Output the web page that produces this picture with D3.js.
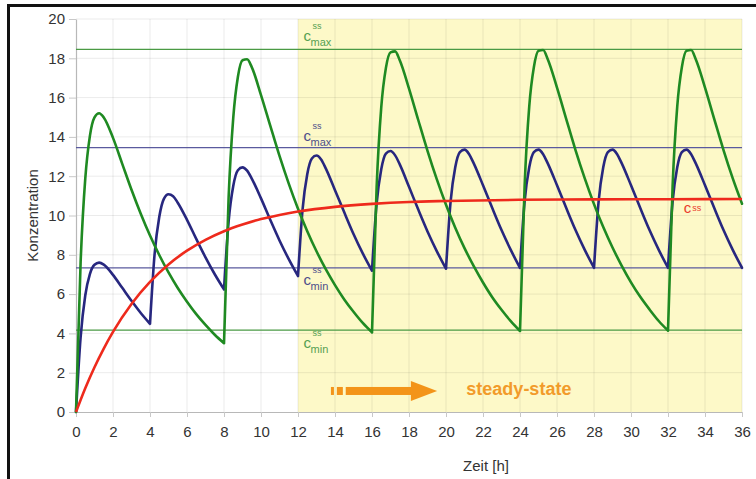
<!DOCTYPE html>
<html>
<head>
<meta charset="utf-8">
<script src="https://cdn.jsdelivr.net/npm/d3@7"></script>
<style>
  html, body { margin: 0; padding: 0; background: #fff; }
  svg { display: block; font-family: "Liberation Sans", Arial, sans-serif; }
</style>
</head>
<body>
<svg id="chart" width="756" height="479"></svg>
<script>
// ---------- DATA ----------
const xTicks = [0,2,4,6,8,10,12,14,16,18,20,22,24,26,28,30,32,34,36];
const yTicks = [0,2,4,6,8,10,12,14,16,18,20];
const xLabel = "Zeit [h]";
const yLabel = "Konzentration";
const steadyStart = 12;

// dosing every 8 h (green) : [time h, concentration]
const greenSeries = [
  [0,0],[0.25,7.63],[0.5,11.86],[0.75,14.04],[1,14.99],[1.25,15.2],[1.5,14.99],[2,13.95],[2.5,12.63],[3,11.31],[3.5,10.09],[4,8.98],[4.5,7.99],[5,7.1],[5.5,6.31],[6,5.61],[6.5,4.98],[7,4.43],[7.5,3.93],
  [8,3.5],[8.25,10.93],[8.5,14.97],[8.75,17.05],[9,17.9],[9.25,17.95],[9.5,17.55],[10,16.13],[10.5,14.57],[11,13.03],[11.5,11.62],[12,10.34],[12.5,9.2],[13,8.18],[13.5,7.27],[14,6.46],[14.5,5.73],[15,5.1],[15.5,4.53],
  [16,4.05],[16.25,11.43],[16.5,15.5],[16.75,17.5],[17,18.3],[17.25,18.35],[17.5,17.9],[18,16.46],[18.5,14.86],[19,13.29],[19.5,11.85],[20,10.55],[20.5,9.38],[21,8.34],[21.5,7.42],[22,6.59],[22.5,5.84],[23,5.2],[23.5,4.62],
  [24,4.12],[24.25,11.51],[24.5,15.55],[24.75,17.55],[25,18.38],[25.25,18.42],[25.5,17.95],[26,16.51],[26.5,14.91],[27,13.33],[27.5,11.89],[28,10.58],[28.5,9.41],[29,8.37],[29.5,7.44],[30,6.6],[30.5,5.86],[31,5.22],[31.5,4.63],
  [32,4.14],[32.25,11.51],[32.5,15.55],[32.75,17.55],[33,18.38],[33.25,18.42],[33.5,17.95],[34,16.51],[34.5,14.91],[35,13.33],[35.5,11.89],[36,10.6]
];

// dosing every 4 h (blue)
const blueSeries = [
  [0,0],[0.25,3.81],[0.5,5.93],[0.75,7.02],[1,7.49],[1.25,7.6],[1.5,7.5],[2,6.98],[2.5,6.32],[3,5.66],[3.5,5.04],
  [4,4.49],[4.25,8.05],[4.5,9.92],[4.75,10.85],[5,11.08],[5.25,10.98],[5.5,10.65],[6,9.78],[6.5,8.81],[7,7.87],[7.5,7.01],
  [8,6.24],[8.25,9.7],[8.5,11.5],[8.75,12.3],[9,12.45],[9.25,12.28],[9.5,11.88],[10,10.87],[10.5,9.78],[11,8.73],[11.5,7.78],
  [12,6.92],[12.25,10.34],[12.5,12.1],[12.75,12.9],[13,13.05],[13.25,12.85],[13.5,12.4],[14,11.29],[14.5,10.16],[15,9.06],[15.5,8.07],
  [16,7.19],[16.25,10.6],[16.5,12.35],[16.75,13.15],[17,13.28],[17.25,13.06],[17.5,12.6],[18,11.46],[18.5,10.3],[19,9.19],[19.5,8.19],
  [20,7.29],[20.25,10.72],[20.5,12.45],[20.75,13.22],[21,13.35],[21.25,13.12],[21.5,12.65],[22,11.54],[22.5,10.38],[23,9.26],[23.5,8.25],
  [24,7.33],[24.25,10.72],[24.5,12.45],[24.75,13.22],[25,13.35],[25.25,13.12],[25.5,12.65],[26,11.54],[26.5,10.38],[27,9.26],[27.5,8.25],
  [28,7.34],[28.25,10.72],[28.5,12.45],[28.75,13.22],[29,13.35],[29.25,13.12],[29.5,12.65],[30,11.54],[30.5,10.38],[31,9.26],[31.5,8.25],
  [32,7.34],[32.25,10.72],[32.5,12.45],[32.75,13.22],[33,13.35],[33.25,13.12],[33.5,12.65],[34,11.54],[34.5,10.38],[35,9.26],[35.5,8.25],
  [36,7.34]
];

// continuous infusion (red)
const redSeries = [
  [0,0],[0.5,1.21],[1,2.28],[1.5,3.23],[2,4.08],[3,5.5],[4,6.62],[5,7.51],[6,8.21],[7,8.76],[8,9.2],[9,9.54],[10,9.82],[11,10.03],[12,10.2],
  [14,10.44],[16,10.59],[18,10.69],[20,10.74],[24,10.8],[28,10.82],[32,10.83],[36,10.84]
];

// reference levels
const refNames  = ["greenMax","blueMax","css","blueMin","greenMin"];
const refValues = [18.45, 13.45, 10.84, 7.33, 4.17];

// ---------- DRAWING ----------
const W = 756, H = 479;
const svg = d3.select("#chart");
const x = d3.scaleLinear().domain([0, 36]).range([76, 742]);
const y = d3.scaleLinear().domain([0, 20]).range([412, 19]);

const col = {
  green: "#1f8a22", blue: "#27277f", red: "#ee2a1c",
  greenRef: "#4a9a44", blueRef: "#5a5a9e",
  greenTxt: "#56a052", blueTxt: "#4e4e8a", redTxt: "#ea3b2c",
  orange: "#f39419", yellow: "#fdf9c8", grid: "#000"
};

svg.append("rect").attr("width", W).attr("height", H).attr("fill", "#fff");

// steady-state area
svg.append("rect")
  .attr("x", x(steadyStart)).attr("y", y(20))
  .attr("width", x(36) - x(steadyStart)).attr("height", y(0) - y(20))
  .attr("fill", col.yellow);

// grid
const g = svg.append("g");
g.selectAll(".gx").data(xTicks.filter(d => d > 0)).join("line")
  .attr("x1", d => x(d)).attr("x2", d => x(d))
  .attr("y1", y(0)).attr("y2", y(20))
  .attr("stroke", col.grid).attr("stroke-opacity", 0.08).attr("stroke-width", 1);
g.selectAll(".gy").data(yTicks.filter(d => d > 0)).join("line")
  .attr("x1", x(0)).attr("x2", x(36))
  .attr("y1", d => y(d)).attr("y2", d => y(d))
  .attr("stroke", col.grid).attr("stroke-opacity", 0.08).attr("stroke-width", 1);

// axes
const xAxis = svg.append("g").attr("transform", `translate(0,${y(0)})`)
  .call(d3.axisBottom(x).tickValues(xTicks).tickSize(5).tickPadding(9).tickSizeOuter(0));
const yAxis = svg.append("g").attr("transform", `translate(${x(0)},0)`)
  .call(d3.axisLeft(y).tickValues(yTicks).tickSize(7).tickPadding(4).tickSizeOuter(0));
[xAxis, yAxis].forEach(a => {
  a.select(".domain").attr("stroke", "#b8b8b8").attr("stroke-width", 1.2);
  a.selectAll(".tick line").attr("stroke", "#c8c8c8");
  a.selectAll(".tick text").attr("fill", "#333").attr("font-size", 15)
    .attr("font-family", "'Liberation Sans', Arial, sans-serif");
});

// reference lines
const refColor = { greenMax: col.greenRef, greenMin: col.greenRef, blueMax: col.blueRef, blueMin: col.blueRef };
refNames.forEach((n, i) => {
  if (n === "css") return;
  svg.append("line")
    .attr("x1", x(0)).attr("x2", x(36))
    .attr("y1", y(refValues[i])).attr("y2", y(refValues[i]))
    .attr("stroke", refColor[n]).attr("stroke-width", 1.2);
});

// split a dosing curve at its troughs so every dose gives a sharp corner
function splitAtTroughs(series) {
  const segs = [];
  let cur = [series[0]];
  for (let i = 1; i < series.length; i++) {
    cur.push(series[i]);
    const isTrough = i < series.length - 1 && series[i - 1][1] > series[i][1] && series[i + 1][1] > series[i][1];
    if (isTrough) { segs.push(cur); cur = [series[i]]; }
  }
  segs.push(cur);
  return segs;
}
const line = d3.line().x(d => x(d[0])).y(d => y(d[1])).curve(d3.curveMonotoneX);
function drawCurve(series, color) {
  svg.append("path").attr("d", splitAtTroughs(series).map(s => line(s)).join(""))
    .attr("fill", "none").attr("stroke", color).attr("stroke-width", 2.6)
    .attr("stroke-linejoin", "round").attr("stroke-linecap", "round");
}
drawCurve(blueSeries, col.blue);
drawCurve(greenSeries, col.green);
svg.append("path").datum(redSeries).attr("d", line)
  .attr("fill", "none").attr("stroke", col.red).attr("stroke-width", 2.6);

// level labels  c^ss_max / c^ss_min
function levelLabel(tx, baseVal, color, sub) {
  const bx = x(tx), by = y(baseVal);
  const t = svg.append("g").attr("fill", color);
  t.append("text").attr("x", bx).attr("y", by).attr("font-size", 15).text("c");
  t.append("text").attr("x", bx + 9).attr("y", by - 12).attr("font-size", 9).text("ss");
  t.append("text").attr("x", bx + 7).attr("y", by + 5).attr("font-size", 11).text(sub);
}
levelLabel(12.3, refValues[0] + 0.45, col.greenTxt, "max");
levelLabel(12.3, refValues[1] + 0.35, col.blueTxt, "max");
levelLabel(12.3, refValues[3] - 0.85, col.blueTxt, "min");
levelLabel(12.3, refValues[4] - 0.9, col.greenTxt, "min");

// css label
const cl = svg.append("g").attr("fill", col.redTxt);
cl.append("text").attr("x", x(32.85)).attr("y", y(refValues[2] - 0.72)).attr("font-size", 15).text("c");
cl.append("text").attr("x", x(32.85) + 8.5).attr("y", y(refValues[2] - 0.6)).attr("font-size", 9).text("ss");

// steady-state arrow
const ay = y(1.07);
const ar = svg.append("g").attr("fill", col.orange);
ar.append("rect").attr("x", x(13.78)).attr("y", ay - 4).attr("width", 3).attr("height", 8);
ar.append("rect").attr("x", x(14.1)).attr("y", ay - 4).attr("width", 6).attr("height", 8);
ar.append("rect").attr("x", x(14.58)).attr("y", ay - 4).attr("width", x(18.2) - x(14.58)).attr("height", 8);
ar.append("path").attr("d", `M${x(18.1)},${ay - 10} L${x(19.52)},${ay} L${x(18.1)},${ay + 10} Z`);
svg.append("text").attr("x", x(21.1)).attr("y", y(0.87))
  .attr("fill", "#f29b2a").attr("font-size", 18).attr("font-weight", "bold").text("steady-state");

// axis titles
svg.append("text").attr("x", 486).attr("y", 471).attr("text-anchor", "middle")
  .attr("font-size", 15).attr("fill", "#333").text(xLabel);
svg.append("text").attr("transform", `translate(38,${(y(0) + y(20)) / 2}) rotate(-90)`)
  .attr("text-anchor", "middle").attr("font-size", 15).attr("fill", "#333").text(yLabel);

// frame
svg.append("path").attr("d", `M8.5,${H + 5} L8.5,5.5 L${W + 5},5.5`)
  .attr("fill", "none").attr("stroke", "#111").attr("stroke-width", 3);
</script>
</body>
</html>
